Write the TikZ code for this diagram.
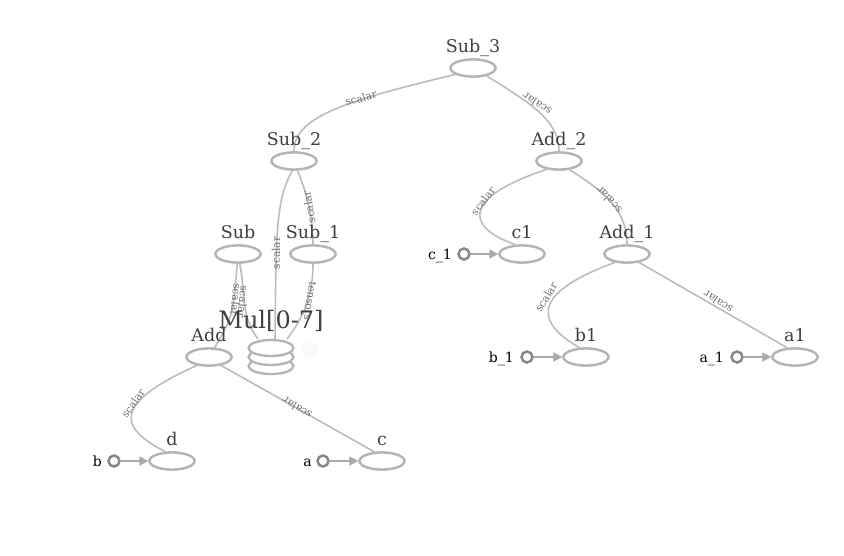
\documentclass[tikz,border=0pt]{standalone}
\usepackage{fontspec}
\setmainfont{DejaVu Serif}
\usetikzlibrary{shapes.geometric,arrows.meta}
\definecolor{opline}{RGB}{180,180,180}
\definecolor{edgeline}{RGB}{188,188,188}
\definecolor{nametext}{RGB}{64,64,64}
\definecolor{edgetext}{RGB}{110,110,110}
\definecolor{inline}{RGB}{136,136,136}
\definecolor{arrowc}{RGB}{170,170,170}
\definecolor{faint}{RGB}{252,250,248}
\tikzset{
  opnode/.style={ellipse,draw=opline,line width=2.3pt,fill=white,minimum width=45pt,minimum height=17pt,inner sep=0pt},
  stacknode/.style={ellipse,draw=opline,line width=2.3pt,fill=white,minimum width=45pt,minimum height=16pt,inner sep=0pt},
  namelabel/.style={anchor=base,text=nametext,font=\fontsize{17.5}{20}\selectfont,inner sep=0pt},
  biglabel/.style={anchor=base,text=nametext,font=\fontsize{24}{28}\selectfont,inner sep=0pt},
  inlabel/.style={anchor=base east,text=black,font=\fontsize{14}{16}\selectfont,inner sep=0pt},
  innode/.style={circle,draw=inline,line width=2.5pt,fill=white,minimum size=11pt,inner sep=0pt},
  edge/.style={draw=edgeline,line width=1.6pt},
  inarrow/.style={draw=arrowc,line width=1.6pt,-{Triangle[length=9pt,width=9pt]}},
  elabel/.style={text=edgetext,font=\fontsize{10.5}{12}\selectfont,inner sep=0pt}
}
\begin{document}
\begin{tikzpicture}[x=1pt,y=-1pt]
\useasboundingbox[fill=white] (0,0) rectangle (844,555);

% op nodes (placed first so edges can refer to them)
\node[opnode] (sub3) at (473,68) {};
\node[opnode] (sub2) at (294,161) {};
\node[opnode] (add2) at (559,161) {};
\node[opnode] (sub) at (238,254) {};
\node[opnode] (sub1) at (313,254) {};
\node[opnode] (c1) at (522,254) {};
\node[opnode] (add1) at (627,254) {};
\node[opnode] (add) at (209,357) {};
\node[opnode] (b1) at (586,357) {};
\node[opnode] (a1) at (795,357) {};
\node[opnode] (d) at (172,461) {};
\node[opnode] (c) at (382,461) {};
\coordinate (multop) at (271,340);

% edges
\path[edge] (sub3.200) .. controls (340,102) and (294,118) .. (sub2.north);
\path[edge] (sub3.330) .. controls (530,103) and (559,120) .. (add2.north);
\path[edge] (sub2.290) .. controls (310,200) and (313,225) .. (sub1.north);
\path[edge] (sub2.260) .. controls (276,200) and (276,230) .. ([xshift=4pt]multop);
\path[edge] (sub1.south) .. controls (313,300) and (300,322) .. ([xshift=16pt,yshift=1pt]multop);
\path[edge] (sub.265) .. controls (234,300) and (236,315) .. (add.60);
\path[edge] (sub.280) .. controls (246,295) and (240,315) .. ([xshift=-13pt,yshift=1pt]multop);
\path[edge] (add2.215) .. controls (468,195) and (460,225) .. (c1.125);
\path[edge] (add2.320) .. controls (605,192) and (627,210) .. (add1.north);
\path[edge] (add1.215) .. controls (540,290) and (528,318) .. (b1.125);
\path[edge] (add1.325) -- (a1.130);
\path[edge] (add.215) .. controls (120,400) and (112,425) .. (d.125);
\path[edge] (add.325) -- (c.130);

% redraw op nodes over edges
\foreach \n in {sub3,sub2,add2,sub,sub1,c1,add1,add,b1,a1,d,c}
  \node[opnode] at (\n) {};

% Mul stack
\node[stacknode] (mul3) at (271,366) {};
\node[stacknode] (mul2) at (271,357) {};
\node[stacknode] (mul1) at (271,348) {};
\node[circle,fill=faint,minimum size=18pt,inner sep=0pt] (mulexp) at (310,350) {};

% edge labels
\node[elabel,rotate=15] (l1) at (361,98) {scalar};
\node[elabel,rotate=146] (l2) at (537,104) {scalar};
\node[elabel,rotate=100] (l3) at (309,207) {scalar};
\node[elabel,rotate=90] (l4) at (276,253) {scalar};
\node[elabel,rotate=-98] (l5) at (310,301) {tensors};
\node[elabel,rotate=-96] (l6) at (236,300) {scalar};
\node[elabel,rotate=-96] (l7) at (243,302) {scalar};
\node[elabel,rotate=52] (l8) at (483,201) {scalar};
\node[elabel,rotate=132] (l9) at (609,200) {scalar};
\node[elabel,rotate=58] (l10) at (546,297) {scalar};
\node[elabel,rotate=148] (l11) at (718,302) {scalar};
\node[elabel,rotate=55] (l12) at (133,403) {scalar};
\node[elabel,rotate=149] (l13) at (297,408) {scalar};

% names
\node[namelabel] (n1) at (473,52) {Sub\_3};
\node[namelabel] (n2) at (294,145) {Sub\_2};
\node[namelabel] (n3) at (559,145) {Add\_2};
\node[namelabel] (n4) at (238,238) {Sub};
\node[namelabel] (n5) at (313,238) {Sub\_1};
\node[namelabel] (n6) at (522,238) {c1};
\node[namelabel] (n7) at (627,238) {Add\_1};
\node[namelabel] (n8) at (209,341) {Add};
\node[namelabel] (n9) at (586,341) {b1};
\node[namelabel] (n10) at (795,341) {a1};
\node[namelabel] (n11) at (172,445) {d};
\node[namelabel] (n12) at (382,445) {c};
\node[biglabel] (n13) at (271,328) {Mul[0-7]};

% inputs
\node[innode] (ic1) at (464,254) {};
\node[innode] (ib1) at (527,357) {};
\node[innode] (ia1) at (737,357) {};
\node[innode] (ib) at (114,461) {};
\node[innode] (ia) at (323,461) {};
\path[inarrow] (ic1) -- (c1.west);
\path[inarrow] (ib1) -- (b1.west);
\path[inarrow] (ia1) -- (a1.west);
\path[inarrow] (ib) -- (d.west);
\path[inarrow] (ia) -- (c.west);
\node[inlabel] (t1) at (452,259) {c\_1};
\node[inlabel] (t2) at (514,362) {b\_1};
\node[inlabel] (t3) at (724,362) {a\_1};
\node[inlabel] (t4) at (102,466) {b};
\node[inlabel] (t5) at (312,466) {a};
\end{tikzpicture}
\end{document}
